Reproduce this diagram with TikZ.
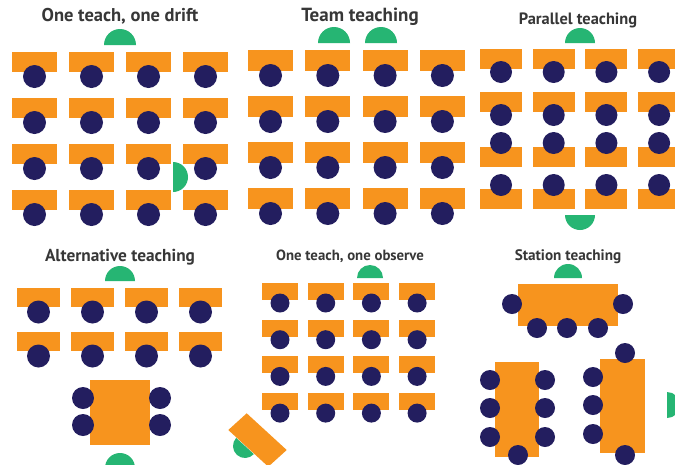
\documentclass[tikz,border=0pt]{standalone}
\usepackage{fontspec}
\setmainfont{PT Sans}
\definecolor{deskc}{RGB}{247,148,30}
\definecolor{stuc}{RGB}{35,30,95}
\definecolor{tchc}{RGB}{38,181,115}
\definecolor{txtc}{RGB}{55,55,55}
\tikzset{
  desk/.style={fill=deskc},
  stu/.style={fill=stuc},
  tch/.style={fill=tchc},
  ttl/.style={anchor=base,inner sep=0pt,text=txtc},
}
\begin{document}
\begin{tikzpicture}[x=1pt,y=-1pt]
\useasboundingbox (0,0) rectangle (675,464);
\fill[white] (0,0) rectangle (675,464);

% ---------- Panel 1: One teach, one drift
\node[ttl,font=\bfseries\fontsize{18.5}{20}\selectfont] (t1) at (120,21.5) {One teach, one drift};
\foreach \i in {0,...,3} \foreach \j in {0,...,3} {
  \fill[desk] ({12+57*\i},{52+46*\j}) rectangle ++(45,20);
  \fill[stu] ({34.5+57*\i},{76.5+46*\j}) circle[radius=11.5pt];
}
\fill[tch] (104,45) arc[start angle=180,end angle=0,radius=16pt] -- cycle;
\fill[tch] (173,162) arc[start angle=90,end angle=-90,radius=15pt] -- cycle;

% ---------- Panel 2: Team teaching
\node[ttl,font=\bfseries\fontsize{19}{20}\selectfont] (t2) at (360,21) {Team teaching};
\foreach \i in {0,...,3} \foreach \j in {0,...,3} {
  \fill[desk] ({248+57.3*\i},{50+46*\j}) rectangle ++(45,21);
  \fill[stu] ({270.5+57.3*\i},{75.5+46*\j}) circle[radius=11.5pt];
}
\fill[tch] (318,43) arc[start angle=180,end angle=0,radius=16pt] -- cycle;
\fill[tch] (365,43) arc[start angle=180,end angle=0,radius=16pt] -- cycle;

% ---------- Panel 3: Parallel teaching
\node[ttl,font=\bfseries\fontsize{16.4}{18}\selectfont] (t3) at (578,24) {Parallel teaching};
\foreach \i in {0,...,3} {
  \foreach \y in {49,92} {
    \fill[desk] ({480+52.7*\i},\y) rectangle ++(42,20);
    \fill[stu] ({501+52.7*\i},{\y+23}) circle[radius=11pt];
  }
  \foreach \y in {147,189} {
    \fill[desk] ({480+52.7*\i},\y) rectangle ++(42,20);
    \fill[stu] ({501+52.7*\i},{\y-4}) circle[radius=11pt];
  }
}
\fill[tch] (565,43) arc[start angle=180,end angle=0,radius=15pt] -- cycle;
\fill[tch] (565,215) arc[start angle=180,end angle=360,radius=15pt] -- cycle;

% ---------- Panel 4: Alternative teaching
\node[ttl,font=\bfseries\fontsize{17.3}{19}\selectfont] (t4) at (120,261.5) {Alternative teaching};
\foreach \i in {0,...,3} \foreach \y in {288,332} {
  \fill[desk] ({17+54*\i},\y) rectangle ++(43,19);
  \fill[stu] ({38.5+54*\i},{\y+24}) circle[radius=11.5pt];
}
\fill[tch] (105,281) arc[start angle=180,end angle=0,radius=15pt] -- cycle;
\fill[desk] (90,380) rectangle (150,445);
\foreach \p in {(83,398),(83,425),(160,398),(160,425)} \fill[stu] \p circle[radius=11pt];
\fill[tch] (105,468) arc[start angle=180,end angle=0,radius=15pt] -- cycle;

% ---------- Panel 5: One teach, one observe
\node[ttl,font=\bfseries\fontsize{14.8}{16}\selectfont] (t5) at (350,260) {One teach, one observe};
\foreach \i in {0,...,3} \foreach \j in {0,...,3} {
  \fill[desk] ({262+45.7*\i},{283+36.7*\j}) rectangle ++(36,17);
  \fill[stu] ({280+45.7*\i},{303+36.7*\j}) circle[radius=9.5pt];
}
\fill[tch] (357,278) arc[start angle=180,end angle=0,radius=13pt] -- cycle;
\fill[desk] (246.7,413.3) -- (286.7,450) -- (268.3,466.7) -- (228.3,430) -- cycle;
\fill[tch] (245,446) ++(137.5:12pt) arc[start angle=137.5,end angle=317.5,radius=12pt] -- cycle;

% ---------- Panel 6: Station teaching
\node[ttl,font=\bfseries\fontsize{15.2}{17}\selectfont] (t6) at (568,260) {Station teaching};
\fill[tch] (554,278) arc[start angle=180,end angle=0,radius=14pt] -- cycle;
\fill[desk] (518,284) rectangle (618,326);
\foreach \p in {(512,304),(623,304),(537,328),(567,328),(598,328)} \fill[stu] \p circle[radius=10pt];
\fill[desk] (495,362) rectangle (539,457);
\foreach \p in {(490,380),(490,408),(490,437),(545,380),(545,408),(545,437),(518,455)} \fill[stu] \p circle[radius=10pt];
\fill[desk] (600,359) rectangle (645,453);
\foreach \p in {(625,353),(593,377),(593,405),(593,434),(625,455)} \fill[stu] \p circle[radius=10pt];
\fill[tch] (667,392) arc[start angle=90,end angle=-90,radius=13pt] -- cycle;
\end{tikzpicture}
\end{document}
